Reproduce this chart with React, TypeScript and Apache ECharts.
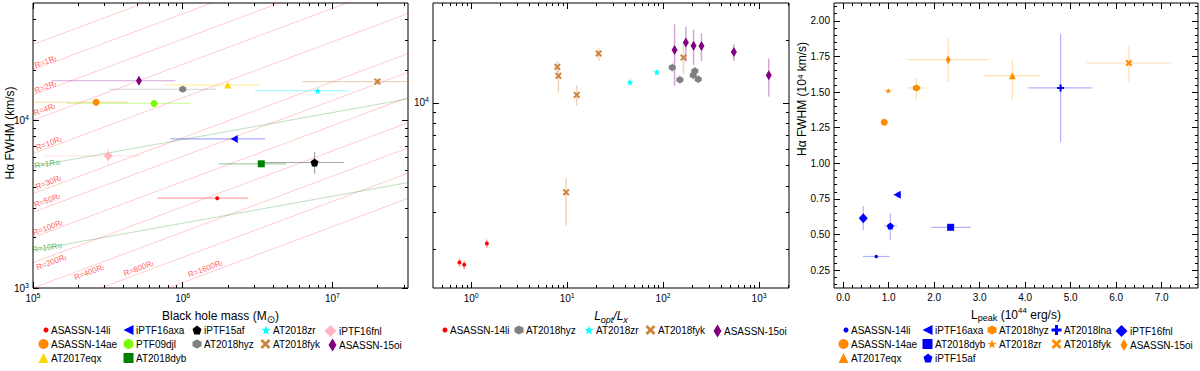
import React, { useEffect, useRef } from 'react';
import * as echarts from 'echarts';

const FONT = "'Liberation Sans', Arial, Helvetica, sans-serif";

// ---------------- Panel 1: black-hole mass vs H-alpha FWHM ----------------
const p1Names = ['ASASSN-14li', 'iPTF16axa', 'iPTF15af', 'AT2018zr', 'iPTF16fnl', 'ASASSN-14ae', 'PTF09djl', 'AT2018hyz', 'AT2018fyk', 'ASASSN-15oi', 'AT2017eqx', 'AT2018dyb'];
const p1Mass = [1.70e6, 2.21e6, 7.6e6, 7.98e6, 3.18e5, 2.64e5, 6.44e5, 1.0e6, 2.0e7, 5.1e5, 2.0e6, 3.35e6];
const p1MassLo = [6.8e5, 8.3e5, 3.37e6, 3.04e6, 1.2e5, 9.0e4, 1.67e5, 3.2e5, 6.3e6, 1.33e5, 7.6e5, 1.75e6];
const p1MassHi = [2.74e6, 3.55e6, 1.2e7, 1.29e7, 5.2e5, 4.3e5, 1.13e6, 1.68e6, 5.0e7, 8.95e5, 3.25e6, 4.9e6];
const p1Fwhm = [3430, 7740, 5600, 15000, 6140, 12800, 12600, 15300, 17000, 17200, 16200, 5500];
const p1FwhmLo = [3430, 7740, 4800, 15000, 5400, 12800, 12600, 15300, 16200, 16200, 16200, 5500];
const p1FwhmHi = [3430, 7740, 6500, 15000, 6900, 12800, 12600, 15300, 17800, 18300, 16200, 5500];

// theoretical tidal-radius lines: FWHM = V_RT * (M / 1e5)^(1/3) / sqrt(R/Rt)
const rtMultiples = [0.5, 1, 2, 4, 10, 30, 50, 100, 200, 400, 800, 1600];
const rtLabelled = [1, 2, 4, 10, 30, 50, 100, 200, 400, 800, 1600];
const V_RT_AT_1E5 = 2.0e4;
const RT_SLOPE = 1 / 3;
// solar-radius lines (read endpoints at M = 1e5 and M = 3.2e7)
const sunLineNames = ['1', '10'];
const sunLineStart = [5300, 1680];
const sunLineEnd = [13400, 4250];

// ---------------- Panel 2: Lopt/Lx vs FWHM ----------------
const p2Names = ['ASASSN-14li', 'AT2018hyz', 'AT2018zr', 'AT2018fyk', 'ASASSN-15oi'];
const p2Ratio = [
  [0.756, 0.846, 1.456],
  [124.5, 149.6, 206, 214, 232],
  [45.2, 86.1],
  [7.91, 8.11, 12.6, 9.74, 21.3, 163],
  [131.6, 172.6, 207.6, 251, 546, 1262],
];
const p2Fwhm = [
  [1720, 1680, 2120],
  [14750, 12880, 13550, 14200, 12970],
  [12550, 14000],
  [14850, 13450, 10900, 3730, 17200, 16450],
  [17900, 19400, 18750, 18700, 17500, 13550],
];
const p2FwhmLo = [
  [1640, 1600, 2020],
  [14000, 12250, 12900, 13500, 12350],
  [12200, 13600],
  [13950, 11200, 9680, 2590, 15850, 13700],
  [12050, 15700, 15200, 15850, 15850, 10700],
];
const p2FwhmHi = [
  [1800, 1760, 2220],
  [15500, 13550, 14250, 14900, 13600],
  [12900, 14400],
  [15850, 14500, 12150, 4360, 18350, 19400],
  [23700, 23100, 22300, 21500, 19050, 16300],
];

// ---------------- Panel 3: Lpeak vs FWHM ----------------
const p3Names = ['ASASSN-14li', 'iPTF16axa', 'AT2018hyz', 'AT2018lna', 'iPTF16fnl', 'ASASSN-14ae', 'AT2018dyb', 'AT2018zr', 'AT2018fyk', 'ASASSN-15oi', 'AT2017eqx', 'iPTF15af'];
const p3Lpeak = [0.729, 1.19, 1.61, 4.78, 0.443, 0.905, 2.363, 0.993, 6.28, 2.31, 3.72, 1.037];
const p3LpeakLo = [0.435, 1.10, 1.42, 4.07, 0.40, 0.905, 1.94, 0.91, 5.35, 1.41, 3.09, 0.91];
const p3LpeakHi = [1.02, 1.28, 1.81, 5.48, 0.48, 0.905, 2.80, 1.08, 7.20, 3.20, 4.33, 1.18];
const p3Fwhm = [0.346, 0.78, 1.529, 1.529, 0.614, 1.288, 0.551, 1.51, 1.704, 1.727, 1.615, 0.56];
const p3FwhmLo = [0.346, 0.76, 1.447, 1.148, 0.53, 1.288, 0.53, 1.51, 1.575, 1.573, 1.45, 0.46];
const p3FwhmHi = [0.346, 0.80, 1.60, 1.91, 0.70, 1.288, 0.57, 1.51, 1.83, 1.883, 1.73, 0.65];

// ---------------- styles ----------------
const SYM: Record<string, string> = {
  dot: 'circle',
  circle: 'circle',
  ltri: 'path://M-10,0L8,-9L8,9Z',
  pent: 'path://M0,-10L9.51,-3.09L5.88,8.09L-5.88,8.09L-9.51,-3.09Z',
  star: 'path://M0,-10L2.35,-3.24L9.51,-3.09L3.8,1.24L5.88,8.09L0,4L-5.88,8.09L-3.8,1.24L-9.51,-3.09L-2.35,-3.24Z',
  diamond: 'diamond',
  hex: 'path://M0,-10L8.66,-5L8.66,5L0,10L-8.66,5L-8.66,-5Z',
  cross: 'path://M-10,-6L-6,-10L0,-4L6,-10L10,-6L4,0L10,6L6,10L0,4L-6,10L-10,6L-4,0Z',
  tri: 'triangle',
  square: 'rect',
  plus: 'path://M-3,-10L3,-10L3,-3L10,-3L10,3L3,3L3,10L-3,10L-3,3L-10,3L-10,-3L-3,-3Z',
};

type Sty = { color: string; sym: string; size: number[]; icon: number[] };
const baseStyle: Record<string, Sty> = {
  'ASASSN-14li': { color: '#ff0000', sym: 'dot', size: [4, 4], icon: [5, 5] },
  'iPTF16axa': { color: '#0000ff', sym: 'ltri', size: [7, 8], icon: [10, 10] },
  'iPTF15af': { color: '#000000', sym: 'pent', size: [8, 8], icon: [9, 9] },
  'AT2018zr': { color: '#00ffff', sym: 'star', size: [7, 7], icon: [9, 9] },
  'iPTF16fnl': { color: '#ffb6c1', sym: 'diamond', size: [9, 10], icon: [12, 12] },
  'ASASSN-14ae': { color: '#ff8c00', sym: 'circle', size: [7, 7], icon: [10, 10] },
  'PTF09djl': { color: '#7cfc00', sym: 'circle', size: [7, 7], icon: [10, 10] },
  'AT2018hyz': { color: '#808080', sym: 'hex', size: [7, 7], icon: [9, 9] },
  'AT2018fyk': { color: '#cd853f', sym: 'cross', size: [7, 7], icon: [10, 10] },
  'ASASSN-15oi': { color: '#800080', sym: 'diamond', size: [6, 10], icon: [8, 13] },
  'AT2017eqx': { color: '#ffd700', sym: 'tri', size: [7, 7], icon: [10, 10] },
  'AT2018dyb': { color: '#008000', sym: 'square', size: [7, 7], icon: [10, 10] },
};
const BLUE = '#0000ff';
const ORANGE = '#ff8c00';
const p3Style: Record<string, Sty> = {
  'ASASSN-14li': { color: BLUE, sym: 'dot', size: [3.5, 3.5], icon: [5, 5] },
  'iPTF16axa': { color: BLUE, sym: 'ltri', size: [7, 8], icon: [10, 10] },
  'AT2018hyz': { color: ORANGE, sym: 'hex', size: [7, 7], icon: [9, 9] },
  'AT2018lna': { color: BLUE, sym: 'plus', size: [7, 7], icon: [10, 10] },
  'iPTF16fnl': { color: BLUE, sym: 'diamond', size: [9, 10], icon: [12, 12] },
  'ASASSN-14ae': { color: ORANGE, sym: 'circle', size: [7, 7], icon: [10, 10] },
  'AT2018dyb': { color: BLUE, sym: 'square', size: [7, 7], icon: [10, 10] },
  'AT2018zr': { color: ORANGE, sym: 'star', size: [6, 6], icon: [9, 9] },
  'AT2018fyk': { color: ORANGE, sym: 'cross', size: [7, 7], icon: [10, 10] },
  'ASASSN-15oi': { color: ORANGE, sym: 'diamond', size: [5, 9], icon: [7, 12] },
  'AT2017eqx': { color: ORANGE, sym: 'tri', size: [7, 7], icon: [10, 10] },
  'iPTF15af': { color: BLUE, sym: 'pent', size: [7, 7], icon: [9, 9] },
};

// legend layout
const legendRows1 = [['ASASSN-14li', 'iPTF16axa', 'iPTF15af', 'AT2018zr', 'iPTF16fnl'], ['ASASSN-14ae', 'PTF09djl', 'AT2018hyz', 'AT2018fyk', 'ASASSN-15oi'], ['AT2017eqx', 'AT2018dyb']];
const legendRows2 = [['ASASSN-14li', 'AT2018hyz', 'AT2018zr', 'AT2018fyk', 'ASASSN-15oi']];
const legendRows3 = [['ASASSN-14li', 'iPTF16axa', 'AT2018hyz', 'AT2018lna', 'iPTF16fnl'], ['ASASSN-14ae', 'AT2018dyb', 'AT2018zr', 'AT2018fyk', 'ASASSN-15oi'], ['AT2017eqx', 'iPTF15af']];
const legendCols1 = [51, 136, 204, 273, 339];
const legendCols2 = [450, 526, 596, 658, 724];
const legendCols3 = [851, 935, 999, 1064, 1130];
const legendRowY = [331, 345, 359];

function hexA(hex: string, a: number) {
  const n = parseInt(hex.slice(1), 16);
  return `rgba(${(n >> 16) & 255},${(n >> 8) & 255},${n & 255},${a})`;
}

function logMinors(lo: number, hi: number) {
  const out: number[] = [];
  for (let e = Math.floor(Math.log10(lo)) - 1; e <= Math.ceil(Math.log10(hi)); e++) {
    for (let m = 2; m <= 9; m++) {
      const v = +(m * Math.pow(10, e)).toPrecision(6);
      if (v > lo * 1.001 && v < hi * 0.999) out.push(v);
    }
  }
  return out;
}
function linTicks(lo: number, hi: number, step: number, skip: number) {
  const out: number[] = [];
  const n0 = Math.ceil(lo / step - 1e-9), n1 = Math.floor(hi / step + 1e-9);
  for (let i = n0; i <= n1; i++) {
    const v = +(i * step).toFixed(6);
    if (v <= lo + 1e-9 || v >= hi - 1e-9) continue;
    if (skip > 0 && Math.abs(v / skip - Math.round(v / skip)) < 1e-6) continue;
    out.push(v);
  }
  return out;
}

const tickRich = {
  b: { fontSize: 10, fontFamily: FONT, color: '#000', lineHeight: 13 },
  s: { fontSize: 7, fontFamily: FONT, color: '#000', verticalAlign: 'top', lineHeight: 5 },
};
const logFmt = (v: number) => `{b|10}{s|${Math.round(Math.log10(v))}}`;

function addAxes(list: any[], grid: number, dim: 'x' | 'y', type: string, min: number, max: number,
  majors: number[], minors: number[], fmt: any, name?: any) {
  const sides = dim === 'x' ? ['bottom', 'top'] : ['left', 'right'];
  const mainIndex = list.length;
  sides.forEach((pos, si) => {
    ([[majors, 6], [minors, 3]] as [number[], number][]).forEach(([vals, len], mi) => {
      const ax: any = {
        type, gridIndex: grid, min, max, position: pos,
        axisLine: { show: false, onZero: false },
        splitLine: { show: false },
        axisTick: { show: true, inside: true, length: len, customValues: vals, lineStyle: { color: '#000', width: 1 } },
        axisLabel: si === 0 && mi === 0
          ? { show: true, customValues: majors, formatter: fmt, rich: tickRich, color: '#000', fontSize: 10, fontFamily: FONT, margin: 4 }
          : { show: false },
        axisPointer: { show: false },
        silent: true,
      };
      if (type === 'log') ax.logBase = 10;
      if (si === 0 && mi === 0 && name) Object.assign(ax, name);
      list.push(ax);
    });
  });
  return mainIndex;
}

function renderErr(stroke: string, lw: number) {
  return (_p: any, api: any) => {
    const x = api.value(0), y = api.value(1);
    const xl = api.value(2), xh = api.value(3), yl = api.value(4), yh = api.value(5);
    const children: any[] = [];
    const style = { stroke, lineWidth: lw };
    if (xh > xl) {
      const a = api.coord([xl, y]), b = api.coord([xh, y]);
      children.push({ type: 'line', shape: { x1: a[0], y1: a[1], x2: b[0], y2: b[1] }, style });
    }
    if (yh > yl) {
      const a = api.coord([x, yl]), b = api.coord([x, yh]);
      children.push({ type: 'line', shape: { x1: a[0], y1: a[1], x2: b[0], y2: b[1] }, style });
    }
    return { type: 'group', children };
  };
}

function buildOption() {
  const xAxes: any[] = [];
  const yAxes: any[] = [];
  const series: any[] = [];
  const legends: any[] = [];

  const nameStyle = {
    fontSize: 12, fontFamily: FONT, color: '#000', lineHeight: 16,
    rich: {
      sub: { fontSize: 9, fontFamily: FONT, color: '#000', verticalAlign: 'bottom', lineHeight: 10 },
      sup: { fontSize: 8, fontFamily: FONT, color: '#000', verticalAlign: 'top', lineHeight: 6 },
      i: { fontSize: 12, fontFamily: FONT, color: '#000', fontStyle: 'italic', lineHeight: 16 },
      isub: { fontSize: 9, fontFamily: FONT, color: '#000', fontStyle: 'italic', verticalAlign: 'bottom', lineHeight: 10 },
      sun: { fontSize: 10, fontFamily: 'DejaVu Sans', color: '#000', verticalAlign: 'bottom', lineHeight: 12 },
    },
  };

  // ---- grid 0 axes
  const X0 = addAxes(xAxes, 0, 'x', 'log', 1e5, 3.2e7, [1e5, 1e6, 1e7], logMinors(1e5, 3.2e7), logFmt,
    { name: 'Black hole mass (M{sun|⊙})', nameLocation: 'middle', nameGap: 19, nameTextStyle: nameStyle });
  const Y0 = addAxes(yAxes, 0, 'y', 'log', 1e3, 5e4, [1e3, 1e4], logMinors(1e3, 5e4), logFmt);
  // ---- grid 1 axes
  const X1 = addAxes(xAxes, 1, 'x', 'log', 0.4, 2050, [1, 10, 100, 1000], logMinors(0.4, 2050), logFmt,
    { name: '{i|L}{isub|opt}{i|/L}{isub|x}', nameLocation: 'middle', nameGap: 18, nameTextStyle: nameStyle });
  const Y1 = addAxes(yAxes, 1, 'y', 'log', 1300, 30000, [1e4], logMinors(1300, 30000), logFmt);
  // ---- grid 2 axes
  const X2 = addAxes(xAxes, 2, 'x', 'value', -0.2, 7.8, [0, 1, 2, 3, 4, 5, 6, 7], linTicks(-0.2, 7.8, 0.2, 1),
    (v: number) => v.toFixed(1),
    { name: 'L{sub|peak} (10{sup|44} erg/s)', nameLocation: 'middle', nameGap: 18, nameTextStyle: nameStyle });
  const Y2 = addAxes(yAxes, 2, 'y', 'value', 0.125, 2.125, [0.25, 0.5, 0.75, 1, 1.25, 1.5, 1.75, 2], linTicks(0.125, 2.125, 0.05, 0.25),
    (v: number) => v.toFixed(2));

  // ---- panel 0 theoretical lines
  const vRt = (R: number, m: number) => V_RT_AT_1E5 * Math.pow(m / 1e5, RT_SLOPE) / Math.sqrt(R);
  rtMultiples.forEach((R) => {
    series.push({
      type: 'line', name: `rt${R}`, xAxisIndex: X0, yAxisIndex: Y0, symbol: 'none', silent: true, clip: true, z: 1,
      lineStyle: { color: 'rgba(255,0,0,0.2)', width: 1 },
      data: [[1e5, vRt(R, 1e5)], [3.2e7, vRt(R, 3.2e7)]],
    });
  });
  sunLineNames.forEach((n, i) => {
    series.push({
      type: 'line', name: `sun${n}`, xAxisIndex: X0, yAxisIndex: Y0, symbol: 'none', silent: true, clip: true, z: 1,
      lineStyle: { color: 'rgba(0,128,0,0.25)', width: 1 },
      data: [[1e5, sunLineStart[i]], [3.2e7, sunLineEnd[i]]],
    });
  });
  // labels for the theoretical lines (placement only)
  const rtLabelPlace: Record<number, [number, number]> = {
    1: [1.23e5, -3], 2: [1.23e5, -3], 4: [1.23e5, -6], 10: [1.3e5, -4], 30: [1.3e5, -5], 50: [1.28e5, -6],
    100: [1.28e5, -4], 200: [1.28e5, 6], 400: [2.3e5, 5], 800: [5.2e5, -5], 1600: [1.45e6, -5],
  };
  const RED_TXT = 'rgba(255,25,25,0.95)';
  const GRN_TXT = 'rgba(20,150,20,0.95)';
  series.push({
    type: 'scatter', name: 'rtLabels', xAxisIndex: X0, yAxisIndex: Y0, symbolSize: 1, silent: true, z: 5, clip: false,
    itemStyle: { color: 'rgba(0,0,0,0)' },
    label: {
      show: true, position: 'inside', rotate: 20.6, color: RED_TXT, fontSize: 8, fontFamily: FONT,
      rich: { t: { fontSize: 6, fontStyle: 'italic', color: RED_TXT, verticalAlign: 'bottom', lineHeight: 5, fontFamily: FONT } },
    },
    data: rtLabelled.map((R) => {
      const [m, dy] = rtLabelPlace[R];
      return { value: [m, vRt(R, m)], label: { formatter: `R=${R}R{t|t}`, offset: [0, dy] } };
    }),
  });
  series.push({
    type: 'scatter', name: 'sunLabels', xAxisIndex: X0, yAxisIndex: Y0, symbolSize: 1, silent: true, z: 5, clip: false,
    itemStyle: { color: 'rgba(0,0,0,0)' },
    label: {
      show: true, position: 'inside', rotate: 9, color: GRN_TXT, fontSize: 8, fontFamily: FONT,
      rich: { o: { fontSize: 6.5, color: GRN_TXT, verticalAlign: 'bottom', lineHeight: 7, fontFamily: 'DejaVu Sans' } },
    },
    data: sunLineNames.map((n, i) => {
      const m = 1.25e5;
      const slope = Math.log10(sunLineEnd[i] / sunLineStart[i]) / Math.log10(3.2e7 / 1e5);
      return { value: [m, sunLineStart[i] * Math.pow(m / 1e5, slope)], label: { formatter: `R=${n}R{o|⊙}` } };
    }),
  });

  const addPoint = (prefix: string, name: string, sty: Sty, xi: number, yi: number, pts: number[][], errW: number, errA: number) => {
    series.push({
      type: 'custom', name: `e${prefix}${name}`, xAxisIndex: xi, yAxisIndex: yi, silent: true, clip: true, z: 2,
      renderItem: renderErr(hexA(sty.color, errA), errW),
      data: pts,
    });
    series.push({
      type: 'scatter', name: `${prefix}${name}`, xAxisIndex: xi, yAxisIndex: yi, z: 3,
      symbol: SYM[sty.sym], symbolSize: sty.size, itemStyle: { color: sty.color, opacity: 1 },
      data: pts.map((p) => [p[0], p[1]]),
    });
  };

  p1Names.forEach((n, i) => {
    addPoint('L:', n, baseStyle[n], X0, Y0, [[p1Mass[i], p1Fwhm[i], p1MassLo[i], p1MassHi[i], p1FwhmLo[i], p1FwhmHi[i]]], 1.2, 0.35);
  });
  p2Names.forEach((n, k) => {
    const pts = p2Ratio[k].map((r, j) => [r, p2Fwhm[k][j], r, r, p2FwhmLo[k][j], p2FwhmHi[k][j]]);
    addPoint('M:', n, baseStyle[n], X1, Y1, pts, 1.5, 0.35);
  });
  p3Names.forEach((n, i) => {
    addPoint('R:', n, p3Style[n], X2, Y2, [[p3Lpeak[i], p3Fwhm[i], p3LpeakLo[i], p3LpeakHi[i], p3FwhmLo[i], p3FwhmHi[i]]], 1.2, 0.3);
  });

  const ICON_GAP = 2.5; // visual gap between icon and text
  const addLegend = (prefix: string, rows: string[][], cols: number[], styles: Record<string, Sty>) => {
    rows.forEach((row, r) => {
      row.forEach((n, c) => {
        const [w, h] = styles[n].icon;
        legends.push({
          data: [`${prefix}${n}`], left: cols[c] - w - ICON_GAP, top: legendRowY[r] - Math.max(h, 12) / 2,
          padding: 0, itemWidth: w, itemHeight: h, itemGap: 0, selectedMode: false, symbolKeepAspect: false,
          formatter: () => n,
          textStyle: { fontSize: 10, fontFamily: FONT, color: '#000', padding: [0, 0, 0, ICON_GAP - 5] },
        });
      });
    });
  };
  addLegend('L:', legendRows1, legendCols1, baseStyle);
  addLegend('M:', legendRows2, legendCols2, baseStyle);
  addLegend('R:', legendRows3, legendCols3, p3Style);

  const gridBase = { show: true, borderColor: '#000', borderWidth: 1, backgroundColor: 'transparent', containLabel: false };

  return {
    animation: false,
    backgroundColor: '#ffffff',
    textStyle: { fontFamily: FONT },
    grid: [
      { ...gridBase, left: 33, top: 3, width: 375, height: 285 },
      { ...gridBase, left: 433, top: 3, width: 356, height: 285 },
      { ...gridBase, left: 834, top: 3, width: 364, height: 285 },
    ],
    xAxis: xAxes,
    yAxis: yAxes,
    legend: legends,
    graphic: [
      {
        type: 'text', x: 10, y: 133, rotation: Math.PI / 2, silent: true,
        style: { text: 'H\u03b1 FWHM (km/s)', font: `12px ${FONT}`, fill: '#000', align: 'center', verticalAlign: 'middle' },
      },
      {
        type: 'text', x: 802, y: 99, rotation: Math.PI / 2, silent: true,
        style: {
          text: 'H\u03b1 FWHM (10{sup|4} km/s)', font: `12px ${FONT}`, fill: '#000', align: 'center', verticalAlign: 'middle',
          rich: { sup: { fontSize: 8, fontFamily: FONT, fill: '#000', verticalAlign: 'top', lineHeight: 6 } },
        },
      },
    ],
    series,
  };
}

export default function App() {
  const ref = useRef<HTMLDivElement>(null);
  useEffect(() => {
    if (!ref.current) return;
    const chart = echarts.init(ref.current, null, { renderer: 'svg' });
    chart.setOption(buildOption() as any);
    return () => chart.dispose();
  }, []);
  return <div ref={ref} style={{ position: 'absolute', left: 0, top: 0, width: 1200, height: 371 }} />;
}
